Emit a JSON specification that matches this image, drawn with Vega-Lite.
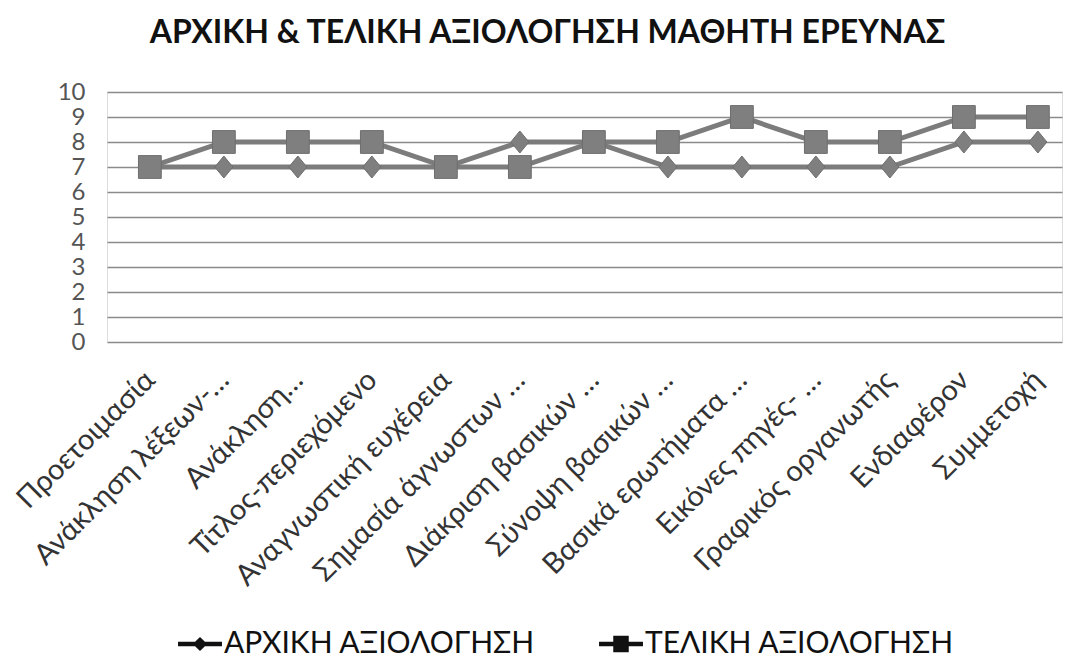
{
  "$schema": "https://vega.github.io/schema/vega-lite/v6.json",
  "width": 955,
  "height": 250,
  "autosize": "none",
  "padding": {"left": 107, "top": 92, "right": 3, "bottom": 318},
  "background": "white",
  "title": {
    "text": "ΑΡΧΙΚΗ & ΤΕΛΙΚΗ ΑΞΙΟΛΟΓΗΣΗ ΜΑΘΗΤΗ ΕΡΕΥΝΑΣ",
    "font": "Lato",
    "fontSize": 32,
    "fontWeight": "bold",
    "color": "#111111",
    "anchor": "middle",
    "frame": "group",
    "dx": -37,
    "offset": 30
  },
  "data": {
    "values": [
      {"cat": "Προετοιμασία", "series": "ΑΡΧΙΚΗ ΑΞΙΟΛΟΓΗΣΗ", "marker": "diamond", "value": 7},
      {"cat": "Ανάκληση λέξεων-…", "series": "ΑΡΧΙΚΗ ΑΞΙΟΛΟΓΗΣΗ", "marker": "diamond", "value": 7},
      {"cat": "Ανάκληση…", "series": "ΑΡΧΙΚΗ ΑΞΙΟΛΟΓΗΣΗ", "marker": "diamond", "value": 7},
      {"cat": "Τίτλος-περιεχόμενο", "series": "ΑΡΧΙΚΗ ΑΞΙΟΛΟΓΗΣΗ", "marker": "diamond", "value": 7},
      {"cat": "Αναγνωστική ευχέρεια", "series": "ΑΡΧΙΚΗ ΑΞΙΟΛΟΓΗΣΗ", "marker": "diamond", "value": 7},
      {"cat": "Σημασία άγνωστων …", "series": "ΑΡΧΙΚΗ ΑΞΙΟΛΟΓΗΣΗ", "marker": "diamond", "value": 8},
      {"cat": "Διάκριση βασικών …", "series": "ΑΡΧΙΚΗ ΑΞΙΟΛΟΓΗΣΗ", "marker": "diamond", "value": 8},
      {"cat": "Σύνοψη βασικών …", "series": "ΑΡΧΙΚΗ ΑΞΙΟΛΟΓΗΣΗ", "marker": "diamond", "value": 7},
      {"cat": "Βασικά ερωτήματα …", "series": "ΑΡΧΙΚΗ ΑΞΙΟΛΟΓΗΣΗ", "marker": "diamond", "value": 7},
      {"cat": "Εικόνες πηγές- …", "series": "ΑΡΧΙΚΗ ΑΞΙΟΛΟΓΗΣΗ", "marker": "diamond", "value": 7},
      {"cat": "Γραφικός οργανωτής", "series": "ΑΡΧΙΚΗ ΑΞΙΟΛΟΓΗΣΗ", "marker": "diamond", "value": 7},
      {"cat": "Ενδιαφέρον", "series": "ΑΡΧΙΚΗ ΑΞΙΟΛΟΓΗΣΗ", "marker": "diamond", "value": 8},
      {"cat": "Συμμετοχή", "series": "ΑΡΧΙΚΗ ΑΞΙΟΛΟΓΗΣΗ", "marker": "diamond", "value": 8},
      {"cat": "Προετοιμασία", "series": "ΤΕΛΙΚΗ ΑΞΙΟΛΟΓΗΣΗ", "marker": "square", "value": 7},
      {"cat": "Ανάκληση λέξεων-…", "series": "ΤΕΛΙΚΗ ΑΞΙΟΛΟΓΗΣΗ", "marker": "square", "value": 8},
      {"cat": "Ανάκληση…", "series": "ΤΕΛΙΚΗ ΑΞΙΟΛΟΓΗΣΗ", "marker": "square", "value": 8},
      {"cat": "Τίτλος-περιεχόμενο", "series": "ΤΕΛΙΚΗ ΑΞΙΟΛΟΓΗΣΗ", "marker": "square", "value": 8},
      {"cat": "Αναγνωστική ευχέρεια", "series": "ΤΕΛΙΚΗ ΑΞΙΟΛΟΓΗΣΗ", "marker": "square", "value": 7},
      {"cat": "Σημασία άγνωστων …", "series": "ΤΕΛΙΚΗ ΑΞΙΟΛΟΓΗΣΗ", "marker": "square", "value": 7},
      {"cat": "Διάκριση βασικών …", "series": "ΤΕΛΙΚΗ ΑΞΙΟΛΟΓΗΣΗ", "marker": "square", "value": 8},
      {"cat": "Σύνοψη βασικών …", "series": "ΤΕΛΙΚΗ ΑΞΙΟΛΟΓΗΣΗ", "marker": "square", "value": 8},
      {"cat": "Βασικά ερωτήματα …", "series": "ΤΕΛΙΚΗ ΑΞΙΟΛΟΓΗΣΗ", "marker": "square", "value": 9},
      {"cat": "Εικόνες πηγές- …", "series": "ΤΕΛΙΚΗ ΑΞΙΟΛΟΓΗΣΗ", "marker": "square", "value": 8},
      {"cat": "Γραφικός οργανωτής", "series": "ΤΕΛΙΚΗ ΑΞΙΟΛΟΓΗΣΗ", "marker": "square", "value": 8},
      {"cat": "Ενδιαφέρον", "series": "ΤΕΛΙΚΗ ΑΞΙΟΛΟΓΗΣΗ", "marker": "square", "value": 9},
      {"cat": "Συμμετοχή", "series": "ΤΕΛΙΚΗ ΑΞΙΟΛΟΓΗΣΗ", "marker": "square", "value": 9}
    ]
  },
  "encoding": {
    "x": {
      "field": "cat",
      "type": "nominal",
      "sort": null,
      "scale": {"type": "point", "padding": 0.4525, "align": 0.64},
      "axis": {
        "title": null,
        "domain": false,
        "ticks": false,
        "grid": false,
        "labelAngle": -45,
        "labelAlign": "right",
        "labelBaseline": "middle",
        "labelFont": "Lato",
        "labelFontSize": 29,
        "labelColor": "#333333",
        "labelPadding": 33,
        "labelLimit": 400,
        "labelOverlap": false
      }
    },
    "y": {
      "field": "value",
      "type": "quantitative",
      "scale": {"domain": [0, 10], "nice": false, "zero": true},
      "axis": {
        "title": null,
        "domain": false,
        "ticks": false,
        "values": [0, 1, 2, 3, 4, 5, 6, 7, 8, 9, 10],
        "labelFont": "Lato",
        "labelFontSize": 24,
        "labelColor": "#555555",
        "labelPadding": 22,
        "gridColor": "#8a8a8a",
        "gridWidth": 1.6,
        "labelOverlap": false
      }
    }
  },
  "layer": [
    {
      "mark": {"type": "line", "strokeWidth": 5, "color": "#7c7c7c"},
      "encoding": {"detail": {"field": "series"}}
    },
    {
      "mark": {"type": "point", "filled": true, "opacity": 1, "color": "#7f7f7f", "stroke": "#6e6e6e", "strokeWidth": 1},
      "encoding": {
        "shape": {
          "field": "marker",
          "type": "nominal",
          "scale": {"domain": ["diamond", "square"], "range": ["M0,-1L0.82,0L0,1L-0.82,0Z", "square"]},
          "legend": null
        },
        "size": {
          "field": "marker",
          "type": "nominal",
          "scale": {"domain": ["diamond", "square"], "range": [484, 520]},
          "legend": null
        }
      }
    },
    {
      "transform": [{"filter": "datum.value > 100"}],
      "mark": {"type": "line", "strokeWidth": 1.5},
      "encoding": {
        "color": {
          "field": "series",
          "type": "nominal",
          "scale": {"domain": ["ΑΡΧΙΚΗ ΑΞΙΟΛΟΓΗΣΗ", "ΤΕΛΙΚΗ ΑΞΙΟΛΟΓΗΣΗ"], "range": ["#111111", "#111111"]},
          "legend": {
            "title": null,
            "orient": "none",
            "legendX": 71,
            "legendY": 530,
            "direction": "horizontal",
            "labelFont": "Lato",
            "labelFontSize": 30,
            "labelColor": "#111111",
            "labelOffset": 2,
            "labelLimit": 500,
            "symbolSize": 1800,
            "columnPadding": 60,
            "symbolStrokeWidth": 1.5,
            "encode": {
              "symbols": {
                "update": {
                  "shape": {"signal": "datum.value === 'ΑΡΧΙΚΗ ΑΞΙΟΛΟΓΗΣΗ' ? 'M-1,-0.07H-0.22L0,-0.28L0.22,-0.07H1V0.07H0.22L0,0.28L-0.22,0.07H-1Z' : 'M-1,-0.07H-0.33V-0.35H0.33V-0.07H1V0.07H0.33V0.35H-0.33V0.07H-1Z'"},
                  "fill": {"value": "#111111"},
                  "opacity": {"value": 1}
                }
              }
            }
          }
        }
      }
    }
  ]
}
